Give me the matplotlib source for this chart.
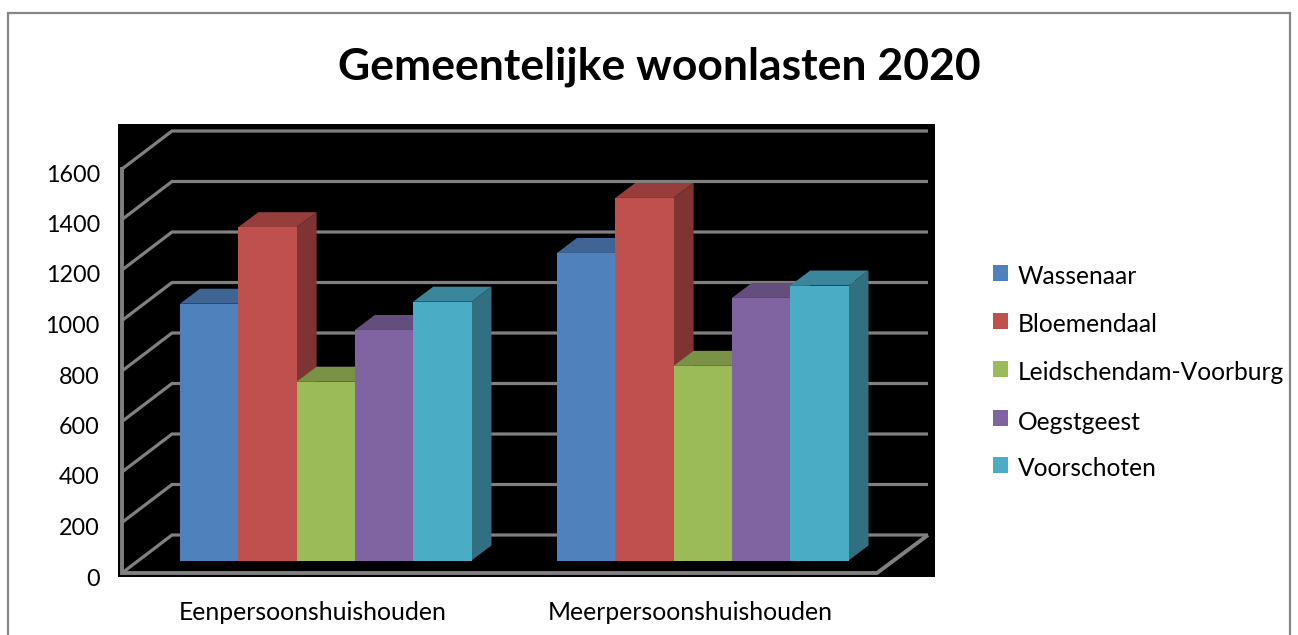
import matplotlib
matplotlib.use("Agg")
import matplotlib.pyplot as plt
from matplotlib.colors import to_rgb
from matplotlib.patches import Polygon, Rectangle
from matplotlib.transforms import ScaledTranslation

# data
CATEGORIES = ["Eenpersoonshuishouden", "Meerpersoonshuishouden"]
MUNICIPALITIES = ["Wassenaar", "Bloemendaal", "Leidschendam-Voorburg", "Oegstgeest", "Voorschoten"]
WASSENAAR = [1017, 1218]
BLOEMENDAAL = [1320, 1436]
LEIDSCHENDAM = [708, 771]
OEGSTGEEST = [913, 1040]
VOORSCHOTEN = [1025, 1089]
Y_TICKS = [0, 200, 400, 600, 800, 1000, 1200, 1400, 1600]

COLORS = ["#4F81BD", "#C0504D", "#9BBB59", "#8064A2", "#4BACC6"]
GRID = "#808080"
FONT = "Lato"
W, H = 1298, 635

# plot area in pixels of the figure, scales of the axes
LEFT, RIGHT, TOP, BOTTOM = 118, 935, 124, 577
PX_Y = 50.5 / 200
PX_X = 377.0
ZERO_Y = 573
GROUP_X = 313

fig = plt.figure(figsize=(W / 100, H / 100), dpi=100)
ax = fig.add_axes([LEFT / W, 1 - BOTTOM / H, (RIGHT - LEFT) / W, (BOTTOM - TOP) / H])
ax.set_facecolor("black")
ax.set_xlim((LEFT - GROUP_X) / PX_X, (RIGHT - GROUP_X) / PX_X)
ax.set_ylim((ZERO_Y - BOTTOM) / PX_Y, (ZERO_Y - TOP) / PX_Y)
for spine in ax.spines.values():
    spine.set_visible(False)


def dx(px):
    return px / PX_X


def dy(px):
    return px / PX_Y


def shade(color, factor):
    return tuple(c * factor for c in to_rgb(color))


# walls and floor
wall_left = dx(122 - GROUP_X)
wall_right = dx(877 - GROUP_X)
depth_x = dx(50)
depth_y = dy(38)
for tick in Y_TICKS:
    ax.plot([wall_left, wall_left + depth_x, wall_right + depth_x + dx(1)],
            [tick, tick + depth_y, tick + depth_y],
            color=GRID, lw=2.3, solid_joinstyle="miter", solid_capstyle="butt", zorder=1)
ax.plot([wall_left, wall_left], [0, Y_TICKS[-1]], color=GRID, lw=2.8, zorder=1)
ax.plot([wall_left, wall_right, wall_right + depth_x + dx(1)], [0, 0, depth_y],
        color=GRID, lw=2.8, solid_capstyle="butt", zorder=1)

# the bars, left to right so each one hides the side of the one before
start = dx(180 - GROUP_X)
width = dx(58.3)
base = dy(ZERO_Y - 560.5)
side_x = dx(20)
side_y = dy(15)
series = [WASSENAAR, BLOEMENDAAL, LEIDSCHENDAM, OEGSTGEEST, VOORSCHOTEN]
z = 2
for g in range(len(CATEGORIES)):
    for i, values in enumerate(series):
        x0 = g + start + i * width
        x1 = x0 + width
        top = base + values[g]
        ax.add_patch(Polygon([(x0, top), (x1, top), (x1 + side_x, top + side_y), (x0 + side_x, top + side_y)],
                             facecolor=shade(COLORS[i], 0.78), edgecolor="none", zorder=z))
        ax.add_patch(Polygon([(x1, base), (x1 + side_x, base + side_y), (x1 + side_x, top + side_y), (x1, top)],
                             facecolor=shade(COLORS[i], 0.65), edgecolor="none", zorder=z))
        ax.bar(x0, values[g], width=width, bottom=base, align="edge", color=COLORS[i], zorder=z + 0.5)
        z += 1

# axes text
ax.set_yticks(Y_TICKS)
ax.set_yticklabels([str(t) for t in Y_TICKS], fontsize=16.8, family=FONT, color="black")
ax.tick_params(axis="y", length=0, pad=13)
label_shift = ScaledTranslation(0, -4 / 100, fig.dpi_scale_trans)
for label in ax.get_yticklabels():
    label.set_transform(label.get_transform() + label_shift)
ax.set_xticks(range(len(CATEGORIES)))
ax.set_xticklabels(CATEGORIES, fontsize=17.8, family=FONT, color="black")
ax.tick_params(axis="x", length=0, pad=17)

fig.text(659 / W, 1 - 67 / H, "Gemeentelijke woonlasten 2020", fontsize=32, family=FONT,
         fontweight="bold", ha="center", va="center", color="black")

# legend by hand, to keep the spacing of the original
legend_y = [272.5, 320.5, 368.5, 418, 465]
for name, color, y in zip(MUNICIPALITIES, COLORS, legend_y):
    fig.add_artist(Rectangle((993 / W, 1 - (y + 8) / H), 15 / W, 16 / H, transform=fig.transFigure,
                             facecolor=color, edgecolor="none"))
    fig.text(1018 / W, 1 - (y + 4) / H, name, fontsize=17.7, family=FONT, va="center", color="black")

# outer frame of the chart, runs off the bottom
fig.add_artist(Rectangle((8 / W, -10 / H), 1282 / W, (H + 10 - 13) / H, transform=fig.transFigure,
                         facecolor="none", edgecolor="#868686", lw=1.6))

fig.savefig("out.png", dpi=100)
